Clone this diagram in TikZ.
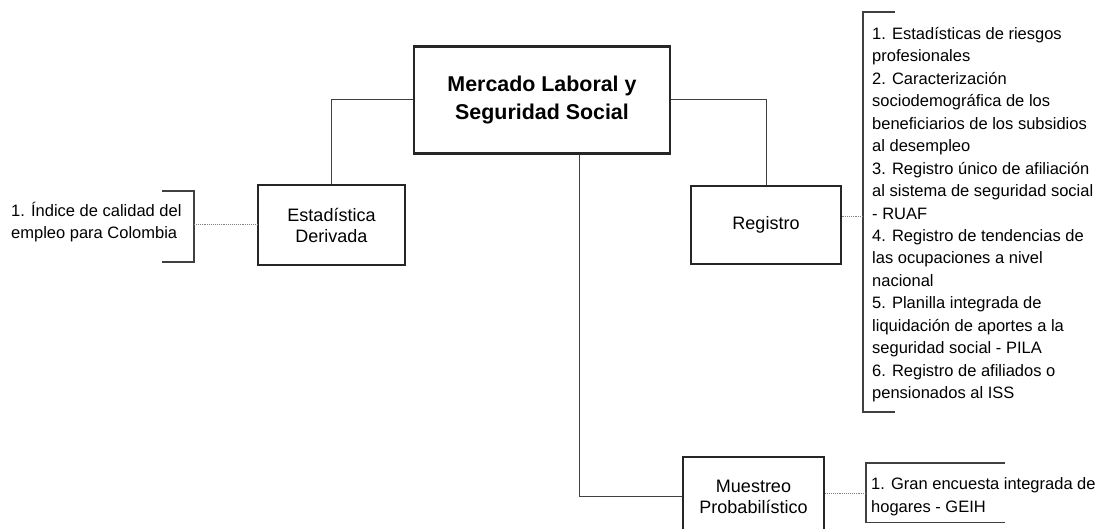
\documentclass[tikz,border=0pt]{standalone}
\usepackage{fontspec}
\setmainfont{Liberation Sans}
\begin{document}
\begin{tikzpicture}[x=1pt,y=-1pt,
  box/.style={draw=black!85, line width=2pt, fill=white, align=center, inner sep=0pt, font=\fontsize{18}{21}\selectfont},
  conn/.style={draw=black!75, line width=1pt},
  dots/.style={draw=black!50, densely dotted, line width=0.9pt},
  brk/.style={draw=black!75, line width=1.1pt},
  list/.style={anchor=north west, align=left, inner sep=0pt, font=\fontsize{16.5}{22.45}\selectfont}
]
\useasboundingbox (0,0) rectangle (1098,529);
\clip (0,0) rectangle (1098,529);
\fill[white] (0,0) rectangle (1098,529);

% boxes
\node[box, line width=2.8pt, minimum width=256pt, minimum height=107pt,
      font=\bfseries\fontsize{21.4}{28.2}\selectfont] (main) at (542,99.75) {Mercado Laboral y\\Seguridad Social};
\node[box, minimum width=147pt, minimum height=80pt] (est) at (331.5,225) {Estadística\\Derivada};
\node[box, minimum width=150pt, minimum height=78pt] (reg) at (766,225) {Registro};
\node[box, minimum width=141pt, minimum height=79pt] (mue) at (753.5,496.5) {Muestreo\\Probabilístico};

% connectors
\coordinate (mb) at (579,0);
\draw[conn] (main.west) -| (est.north);
\draw[conn] (main.east) -| (reg.north);
\draw[conn] (mb |- main.south) |- (mue.west);

% brackets
\draw[brk] (162,191) -- (194,191) -- (194,262) -- (162,262);
\draw[brk] (895,12) -- (863,12) -- (863,412) -- (895,412);
\draw[brk] (1005,463) -- (866,463) -- (866,522.7) -- (1005,522.7);

\coordinate (lb) at (194,224);
\coordinate (rb) at (863,216);
\coordinate (gb) at (866,493.5);
\draw[dots] (lb) -- (lb -| est.west);
\draw[dots] (rb) -- (rb -| reg.east);
\draw[dots] (gb) -- (gb -| mue.east);

% lists
\node[list] (ltxt) at (11,200.5) {\strut 1. Índice de calidad del\\empleo para Colombia};
\node[list] (rtxt) at (872,23.5) {\strut 1. Estadísticas de riesgos\\profesionales\\2. Caracterización\\sociodemográfica de los\\beneficiarios de los subsidios\\al desempleo\\3. Registro único de afiliación\\al sistema de seguridad social\\- RUAF\\4. Registro de tendencias de\\las ocupaciones a nivel\\nacional\\5. Planilla integrada de\\liquidación de aportes a la\\seguridad social - PILA\\6. Registro de afiliados o\\pensionados al ISS};
\node[list] (gtxt) at (871,473.8) {\strut 1. Gran encuesta integrada de\\hogares - GEIH};
\end{tikzpicture}
\end{document}
